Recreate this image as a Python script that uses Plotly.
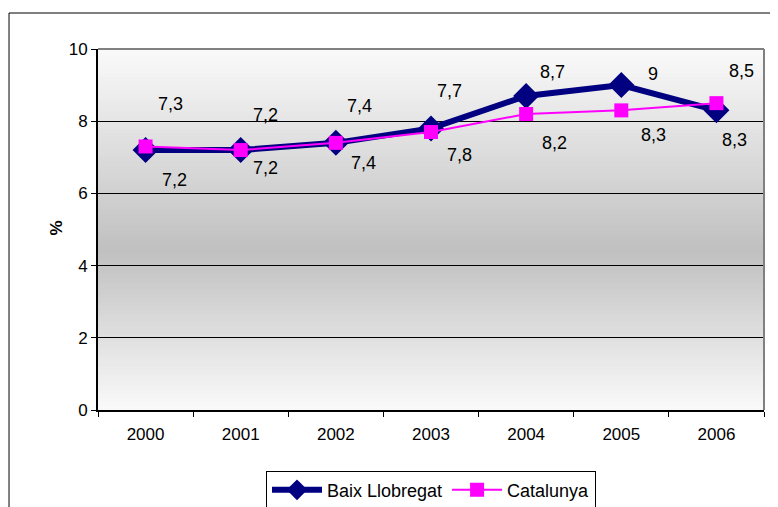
import plotly.graph_objects as go

years = ["2000", "2001", "2002", "2003", "2004", "2005", "2006"]
baix = [7.2, 7.2, 7.4, 7.8, 8.7, 9.0, 8.3]
catalunya = [7.3, 7.2, 7.4, 7.7, 8.2, 8.3, 8.5]
baix_labels = ["7,2", "7,2", "7,4", "7,8", "8,7", "9", "8,3"]
cat_labels = ["7,3", "7,2", "7,4", "7,7", "8,2", "8,3", "8,5"]

# label offsets in pixels (dx, dy up)
baix_off = [(29, -30), (25, -18), (28, -20), (28, -27), (26, 24), (32, 11), (18, -30)]
cat_off = [(25, 42), (25, 35), (24, 37), (18, 41), (28, -29), (32, -25), (25, 32)]

FONT = "Liberation Sans, Arial, sans-serif"

fig = go.Figure()
fig.add_trace(go.Scatter(
    x=years, y=baix, name="Baix Llobregat", mode="lines+markers",
    line=dict(color="#000080", width=6),
    marker=dict(symbol="diamond", size=20, color="#000080"),
    hoverinfo="skip",
))
fig.add_trace(go.Scatter(
    x=years, y=catalunya, name="Catalunya", mode="lines+markers",
    line=dict(color="#ff00ff", width=2),
    marker=dict(symbol="square", size=14, color="#ff00ff"),
    hoverinfo="skip",
))

annotations = []
for i, (v, t, (dx, dy)) in enumerate(zip(baix, baix_labels, baix_off)):
    annotations.append(dict(x=i, y=v, text=t, showarrow=False, xshift=dx, yshift=dy,
                            font=dict(size=18, color="black", family=FONT)))
for i, (v, t, (dx, dy)) in enumerate(zip(catalunya, cat_labels, cat_off)):
    annotations.append(dict(x=i, y=v, text=t, showarrow=False, xshift=dx, yshift=dy,
                            font=dict(size=18, color="black", family=FONT)))
annotations.append(dict(xref="paper", yref="paper", x=-0.0796, y=0.504, text="<b>%</b>",
                        textangle=-90, showarrow=False,
                        font=dict(size=17, color="black", family=FONT)))

# gradient background (light at edges, gray toward the middle)
shapes = []
N = 90
mid = 0.44  # fraction from bottom where darkest
for i in range(N):
    y0 = i / N
    y1 = (i + 1) / N
    yc = (y0 + y1) / 2
    if yc < mid:
        f = yc / mid
        g = 250 - (250 - 192) * f
    else:
        f = (yc - mid) / (1 - mid)
        g = 192 + (250 - 192) * f
    g = int(round(g))
    shapes.append(dict(type="rect", xref="paper", yref="paper", x0=0, x1=1, y0=y0, y1=y1 + 0.002,
                       fillcolor=f"rgb({g},{g},{g})", line=dict(width=0), layer="below"))
# plot-area top/right border (gray)
shapes.append(dict(type="line", xref="paper", yref="paper", x0=0, x1=1, y0=1, y1=1,
                   line=dict(color="#808080", width=2), layer="above"))
shapes.append(dict(type="line", xref="paper", yref="paper", x0=1, x1=1, y0=0, y1=1,
                   line=dict(color="#808080", width=2), layer="above"))
# outer chart border
shapes.append(dict(type="rect", xref="paper", yref="paper", x0=-0.1336, x1=1.2, y0=-0.4, y1=1.0997,
                   line=dict(color="black", width=1), fillcolor="rgba(0,0,0,0)", layer="above"))

fig.update_layout(
    width=770, height=499,
    margin=dict(l=90, r=14, t=41, b=97, autoexpand=False),
    paper_bgcolor="white", plot_bgcolor="white",
    font=dict(family=FONT, size=17, color="black"),
    showlegend=True,
    legend=dict(orientation="h", x=0.5, xanchor="center", y=-0.168, yanchor="top",
                bordercolor="black", borderwidth=1, bgcolor="white",
                font=dict(size=18, family=FONT), itemwidth=50, tracegroupgap=0),
    shapes=shapes, annotations=annotations,
    xaxis=dict(type="category", range=[-0.5, 6.5], autorange=False, tickson="boundaries",
               ticks="outside", ticklen=5, tickangle=0, ticklabelstandoff=8,
               tickcolor="black", tickwidth=1, showline=True, linecolor="black", linewidth=2,
               showgrid=False, tickfont=dict(size=17), fixedrange=True),
    yaxis=dict(range=[0, 10], autorange=False, dtick=2, tick0=0, ticks="outside", ticklen=5,
               tickcolor="black",
               showline=True, linecolor="black", linewidth=2, showgrid=True, gridcolor="black",
               gridwidth=1, zeroline=False, tickfont=dict(size=17), fixedrange=True),
)

fig.write_html("out.html")
